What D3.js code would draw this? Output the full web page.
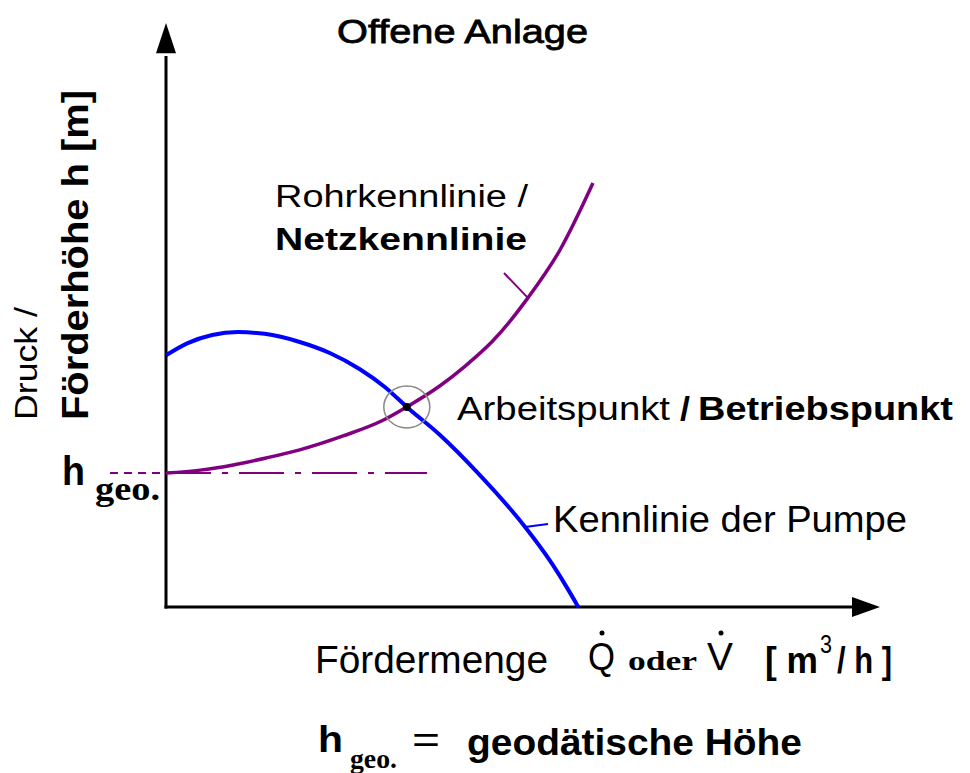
<!DOCTYPE html>
<html>
<head>
<meta charset="utf-8">
<script src="https://cdn.jsdelivr.net/npm/d3@7/dist/d3.min.js"></script>
<style>
  body { margin: 0; background: #fff; }
  text { font-family: "Liberation Sans", Arial, sans-serif; fill: #000; }
  .serif { font-family: "Liberation Serif", "Times New Roman", serif; font-weight: bold; }
</style>
</head>
<body>
<script>
// pump curve (Kennlinie der Pumpe), Q and h in % of axis length
var pumpQ = [0, 3.1, 6.6, 10.3, 14.1, 19.1, 23.4, 27.7, 31.3, 34.4, 39.1, 44.4, 51.3, 54.9, 57.0, 58.9];
var pumpH = [43.4, 45.5, 46.9, 47.4, 47.1, 45.7, 43.8, 41.0, 37.9, 34.5, 29.7, 23.3, 13.8, 7.9, 3.9, 0];

// system curve (Rohrkennlinie / Netzkennlinie)
var pipeQ = [0, 4.9, 9.6, 14.3, 19.1, 25.3, 31.0, 34.4, 39.1, 42.7, 46.7, 51.7, 56.3, 61.0];
var pipeH = [23.1, 23.6, 24.5, 25.7, 27.1, 29.5, 32.2, 34.5, 38.1, 41.5, 45.9, 53.3, 61.6, 73.1];

var hGeo = 23.1;            // static head
var opPoint = [34.4, 34.5]; // Arbeitspunkt

var width = 970,
    height = 773;

var svg = d3.select("body")
    .append("svg")
    .attr("width", width)
    .attr("height", height);

//scales: axis origin at (166,607)
var x = d3.scaleLinear().domain([0, 102]).range([166, 880]);
var y = d3.scaleLinear().domain([0, 100.7]).range([607, 23]);

var line = d3.line()
    .x(function(d){ return x(d[0]); })
    .y(function(d){ return y(d[1]); })
    .curve(d3.curveMonotoneX);

//axes
svg.append("line")
    .attr("x1", x(0)).attr("y1", y(0) + 1.5)
    .attr("x2", x(0)).attr("y2", y(95))
    .attr("stroke", "#000").attr("stroke-width", 3);
svg.append("line")
    .attr("x1", x(0) - 1.5).attr("y1", y(0))
    .attr("x2", x(98)).attr("y2", y(0))
    .attr("stroke", "#000").attr("stroke-width", 3);

//arrow heads
svg.append("path")
    .attr("d", "M" + x(0) + "," + y(100.7) + "L" + (x(0) + 10) + "," + y(95.5) +
               "L" + (x(0) - 10) + "," + y(95.5) + "Z")
    .attr("fill", "#000");
svg.append("path")
    .attr("d", "M" + x(102) + "," + y(0) + "L" + x(98) + "," + (y(0) - 10) +
               "L" + x(98) + "," + (y(0) + 10) + "Z")
    .attr("fill", "#000");

//h geo line
svg.append("line")
    .attr("x1", x(-8)).attr("y1", y(hGeo))
    .attr("x2", x(0)).attr("y2", y(hGeo))
    .attr("stroke", "#800080").attr("stroke-width", 2)
    .attr("stroke-dasharray", "8,6");
svg.append("line")
    .attr("x1", x(0)).attr("y1", y(hGeo))
    .attr("x2", x(37.3)).attr("y2", y(hGeo))
    .attr("stroke", "#800080").attr("stroke-width", 2)
    .attr("stroke-dasharray", "45,11,6,11");

//curves
var pipeData = pipeQ.map(function(q, i){ return [q, pipeH[i]]; });
var pumpData = pumpQ.map(function(q, i){ return [q, pumpH[i]]; });

svg.append("path")
    .datum(pumpData)
    .attr("d", line)
    .attr("fill", "none")
    .attr("stroke", "#0000ff")
    .attr("stroke-width", 4);

svg.append("path")
    .datum(pipeData)
    .attr("d", line)
    .attr("fill", "none")
    .attr("stroke", "#800080")
    .attr("stroke-width", 3.5);

//leader ticks
svg.append("line")
    .attr("x1", 504).attr("y1", 273).attr("x2", x(51.7)).attr("y2", y(53.3))
    .attr("stroke", "#800080").attr("stroke-width", 2);
svg.append("line")
    .attr("x1", x(51.3)).attr("y1", y(13.8)).attr("x2", 548).attr("y2", 524)
    .attr("stroke", "#0000ff").attr("stroke-width", 2);

//operating point
svg.append("ellipse")
    .attr("cx", x(opPoint[0])).attr("cy", y(opPoint[1]))
    .attr("rx", 23).attr("ry", 21)
    .attr("fill", "none").attr("stroke", "#888").attr("stroke-width", 1.5);
svg.append("circle")
    .attr("cx", x(opPoint[0])).attr("cy", y(opPoint[1]))
    .attr("r", 4).attr("fill", "#000");

//texts
function txt(s, px, py, size, len, bold){
    return svg.append("text")
        .attr("x", px).attr("y", py)
        .attr("font-size", size)
        .attr("font-weight", bold ? "bold" : "normal")
        .attr("textLength", len)
        .attr("lengthAdjust", "spacingAndGlyphs")
        .text(s);
}

txt("Offene Anlage", 337, 43, 33, 251, false)
    .attr("stroke", "#000").attr("stroke-width", 0.8);
txt("Rohrkennlinie /", 275, 207, 31, 253, false);
txt("Netzkennlinie", 275, 250, 31, 252, true);
txt("Arbeitspunkt", 457, 420, 34, 213, false);
txt("/", 680, 420, 34, 10, true);
txt("Betriebspunkt", 698, 420, 34, 255, true);
txt("Kennlinie der Pumpe", 553, 532, 36, 354, false);

//x axis label
txt("Fördermenge", 315, 673, 38, 233, false);
txt("Q", 588, 670, 38, 27, false);
txt("oder", 628, 670, 27, 69, true).attr("class", "serif");
txt("V", 707, 670, 38, 26, false);
svg.append("circle").attr("cx", 602).attr("cy", 633).attr("r", 2.5).attr("fill", "#000");
svg.append("circle").attr("cx", 721).attr("cy", 633).attr("r", 2.5).attr("fill", "#000");
txt("[ m", 765, 673, 36, 53, true);
txt("3", 820, 653, 25, 12, false);
txt("/ h ]", 837, 673, 36, 55, true);

//y axis label
txt("Druck /", 0, 0, 31, 113, false)
    .attr("transform", "translate(37,420) rotate(-90)");
txt("Förderhöhe  h [m]", 0, 0, 37, 330, true)
    .attr("transform", "translate(88,420) rotate(-90)");

//h geo label
txt("h", 62, 485, 41, 23, true);
txt("geo.", 95, 500, 34, 65, true).attr("class", "serif");

//footnote
txt("h", 318, 752, 36, 25, true);
txt("geo.", 350, 768, 28, 47, true).attr("class", "serif");
txt("=", 412, 752, 36, 28, false);
txt("geodätische Höhe", 467, 755, 37, 335, true);
</script>
</body>
</html>
